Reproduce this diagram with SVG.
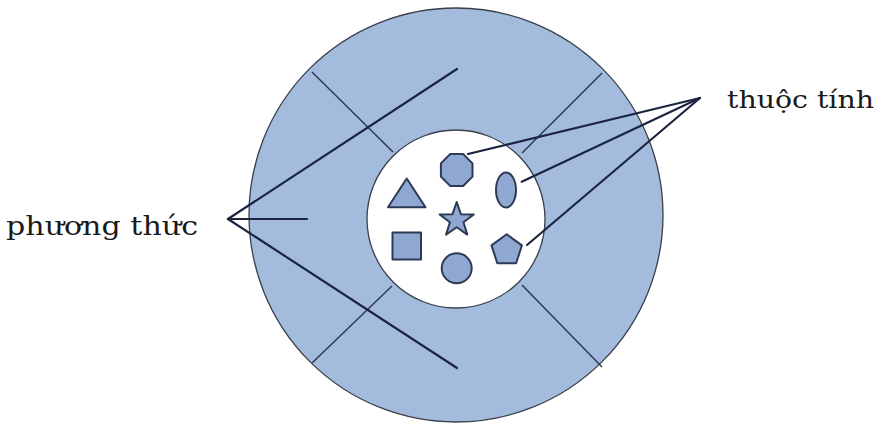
<svg xmlns="http://www.w3.org/2000/svg" width="879" height="427" viewBox="0 0 879 427">
<style>
.ring{fill:#a3bbdd;stroke:#3a3f4a;stroke-width:1.3}
.core{fill:#ffffff;stroke:#3a3f4a;stroke-width:1.3}
.div{stroke:#2c3550;stroke-width:1.4;fill:none}
.ptr{stroke:#1c2440;stroke-width:2.2;fill:none;stroke-linecap:round}
.shp{fill:#8ea8d2;stroke:#2e3a55;stroke-width:2;stroke-linejoin:round}
.lbl{font-family:"DejaVu Serif","Liberation Serif",serif;fill:#1a1a1a}
</style>
<rect width="879" height="427" fill="#ffffff"/>
<g id="outer-ring">
<circle class="ring" cx="456" cy="215" r="207"/>
<line class="div" x1="312" y1="72" x2="393" y2="152"/>
<line class="div" x1="602" y1="73" x2="522" y2="153"/>
<line class="div" x1="312" y1="363" x2="392" y2="286"/>
<line class="div" x1="602" y1="367" x2="522" y2="285"/>
</g>
<g id="inner-core">
<circle class="core" cx="456" cy="219" r="89"/>
</g>
<g id="attributes">
<polygon id="octagon" class="shp" points="463.1,154 472.5,163.4 472.5,176.6 463.1,186 450.3,186 440.9,176.6 440.9,163.4 450.3,154"/>
<ellipse id="ellipse" class="shp" cx="506" cy="190" rx="10" ry="17.5"/>
<polygon id="triangle" class="shp" points="406.7,178.5 425.5,207.3 388,207.3"/>
<polygon id="star" class="shp" points="456.7,202 460.9,214.2 473.8,214.4 463.5,222.2 467.3,234.6 456.7,227.2 446.1,234.6 449.9,222.2 439.6,214.4 452.5,214.2"/>
<rect id="square" class="shp" x="392.5" y="232.5" width="28.5" height="27"/>
<circle id="circle" class="shp" cx="456.7" cy="268.3" r="15"/>
<polygon id="pentagon" class="shp" points="506.7,234.3 521.9,245.4 516.1,263.3 497.3,263.3 491.5,245.4"/>
</g>
<g id="connectors">
<line class="ptr" x1="228" y1="219" x2="457" y2="69"/>
<line class="ptr" x1="228" y1="219" x2="307" y2="219"/>
<line class="ptr" x1="228" y1="219" x2="457" y2="368"/>
<line class="ptr" x1="700" y1="98" x2="468" y2="154"/>
<line class="ptr" x1="700" y1="98" x2="521.7" y2="181.7"/>
<line class="ptr" x1="700" y1="98" x2="527" y2="245"/>
</g>
<g id="label-methods">
<text class="lbl" x="6" y="235" font-size="26" textLength="192" lengthAdjust="spacingAndGlyphs">phương thức</text>
</g>
<g id="label-attributes">
<text class="lbl" x="727" y="108" font-size="24" textLength="147" lengthAdjust="spacingAndGlyphs">thuộc tính</text>
</g>
</svg>
